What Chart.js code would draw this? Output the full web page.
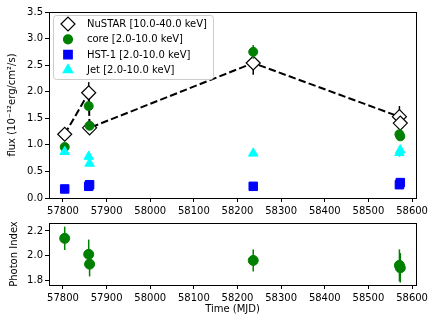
<!DOCTYPE html>
<html>
<head>
<meta charset="utf-8">
<script src="https://cdn.jsdelivr.net/npm/chart.js@4"></script>
<style>
  body { margin: 0; background: #fff; }
  #wrap { position: relative; width: 437px; height: 324px; }
  canvas { position: absolute; left: 0; }
  #fluxChart { top: 0; }
  #indexChart { top: 215px; }
</style>
</head>
<body>
<div id="wrap">
  <canvas id="fluxChart" width="437" height="215"></canvas>
  <canvas id="indexChart" width="437" height="109"></canvas>
</div>
<script>
// ----- data -----
const obsTime = [57804, 57859, 57861, 58236, 58571, 58573];

const nustarFlux = [1.20, 1.98, 1.32, 2.54, 1.53, 1.41];
const nustarErr  = [0.08, 0.20, 0.12, 0.22, 0.20, 0.12];

const coreFlux = [0.96, 1.73, 1.36, 2.75, 1.20, 1.16];
const coreErr  = [0.05, 0.08, 0.08, 0.13, 0.06, 0.06];

const hstFlux = [0.17, 0.22, 0.25, 0.22, 0.25, 0.29];
const hstErr  = [0.03, 0.03, 0.03, 0.03, 0.05, 0.08];

const jetFlux = [0.87, 0.78, 0.65, 0.84, 0.85, 0.90];
const jetErr  = [0.05, 0.05, 0.05, 0.05, 0.08, 0.10];

const photonIndex = [2.14, 2.01, 1.93, 1.96, 1.92, 1.90];
const photonErr   = [0.095, 0.12, 0.10, 0.09, 0.13, 0.12];

const timeTicks  = [57800, 57900, 58000, 58100, 58200, 58300, 58400, 58500, 58600];
const fluxTicks  = [0, 0.5, 1.0, 1.5, 2.0, 2.5, 3.0, 3.5];
const indexTicks = [1.8, 2.0, 2.2];

const legendItems = [
  { label: 'NuSTAR [10.0-40.0 keV]', style: 'rectRot', color: '#000', fill: '#fff', r: 7 },
  { label: 'core [2.0-10.0 keV]', style: 'circle', color: '#008000', fill: '#008000', r: 4.5 },
  { label: 'HST-1 [2.0-10.0 keV]', style: 'rect', color: '#0000ff', fill: '#0000ff', r: 6 },
  { label: 'Jet [2.0-10.0 keV]', style: 'triangle', color: '#00ffff', fill: '#00ffff', r: 5.5 }
];

Chart.defaults.font.family = 'DejaVu Sans';
Chart.defaults.font.size = 10;
Chart.defaults.color = '#000';

const pts = (xs, ys) => xs.map((x, i) => ({ x: x, y: ys[i] }));

// vertical error bars, drawn just under each dataset's markers
const errorBars = {
  id: 'errorBars',
  beforeDatasetDraw(chart, args) {
    const ds = chart.data.datasets[args.index];
    if (!ds.yErr) return;
    const { ctx, scales } = chart;
    ctx.save();
    ctx.strokeStyle = ds.errColor || ds.borderColor;
    ctx.lineWidth = 1.5;
    ds.data.forEach((p, i) => {
      const x = scales.x.getPixelForValue(p.x);
      ctx.beginPath();
      ctx.moveTo(x, scales.y.getPixelForValue(p.y - ds.yErr[i]));
      ctx.lineTo(x, scales.y.getPixelForValue(p.y + ds.yErr[i]));
      ctx.stroke();
    });
    ctx.restore();
  }
};

// full box around plot area
const frame = {
  id: 'frame',
  afterDraw(chart) {
    const { ctx, chartArea: a } = chart;
    ctx.save();
    ctx.strokeStyle = '#000';
    ctx.lineWidth = 1;
    ctx.strokeRect(Math.round(a.left) + 0.5, Math.round(a.top) + 0.5,
      Math.round(a.right - a.left), Math.round(a.bottom - a.top));
    ctx.restore();
  }
};

// matplotlib-like legend box inside the top panel
const innerLegend = {
  id: 'innerLegend',
  afterDraw(chart) {
    const ctx = chart.ctx;
    const x0 = 53.5, y0 = 15.5, w = 160, h = 64, rad = 3;
    ctx.save();
    ctx.beginPath();
    ctx.moveTo(x0 + rad, y0);
    ctx.arcTo(x0 + w, y0, x0 + w, y0 + h, rad);
    ctx.arcTo(x0 + w, y0 + h, x0, y0 + h, rad);
    ctx.arcTo(x0, y0 + h, x0, y0, rad);
    ctx.arcTo(x0, y0, x0 + w, y0, rad);
    ctx.closePath();
    ctx.fillStyle = 'rgba(255,255,255,0.8)';
    ctx.fill();
    ctx.strokeStyle = '#cccccc';
    ctx.lineWidth = 1;
    ctx.stroke();

    ctx.font = '10px "DejaVu Sans"';
    ctx.textBaseline = 'middle';
    legendItems.forEach((item, i) => {
      const cy = 24 + i * 15.3;
      ctx.fillStyle = item.fill;
      ctx.strokeStyle = item.color;
      ctx.lineWidth = 1.2;
      Chart.helpers.drawPoint(ctx, { pointStyle: item.style, radius: item.r, borderWidth: 1.2 }, 68, cy);
      ctx.fillStyle = '#000';
      ctx.fillText(item.label, 87, cy + 0.5);
    });
    ctx.restore();
  }
};

function timeAxis(height, showTitle) {
  return {
    type: 'linear',
    min: 57768,
    max: 58609,
    afterBuildTicks: s => { s.ticks = timeTicks.map(v => ({ value: v })); },
    afterFit: s => { s.height = height; },
    ticks: { padding: 3, maxRotation: 0, autoSkip: false, callback: v => String(v) },
    grid: { drawOnChartArea: false, color: '#000', tickLength: 4 },
    border: { color: '#000' },
    title: { display: showTitle, text: 'Time (MJD)', padding: { top: 0, bottom: 9 } }
  };
}

// ----- flux light curve -----
new Chart(document.getElementById('fluxChart'), {
  type: 'scatter',
  data: {
    datasets: [
      {
        label: 'NuSTAR', data: pts(obsTime, nustarFlux), yErr: nustarErr,
        showLine: true, borderColor: '#000', borderWidth: 2, borderDash: [7.4, 3.2],
        pointStyle: 'rectRot', pointRadius: 7, pointBorderWidth: 1.2,
        pointBackgroundColor: '#fff', pointBorderColor: '#000', order: 4
      },
      {
        label: 'core', data: pts(obsTime, coreFlux), yErr: coreErr,
        borderColor: '#008000', backgroundColor: '#008000',
        pointStyle: 'circle', pointRadius: 4.5, order: 3
      },
      {
        label: 'HST-1', data: pts(obsTime, hstFlux), yErr: hstErr,
        borderColor: '#0000ff', backgroundColor: '#0000ff',
        pointStyle: 'rect', pointRadius: 6, order: 2
      },
      {
        label: 'Jet', data: pts(obsTime, jetFlux), yErr: jetErr,
        borderColor: '#00ffff', backgroundColor: '#00ffff',
        pointStyle: 'triangle', pointRadius: 5.5, order: 1
      }
    ]
  },
  options: {
    responsive: false,
    devicePixelRatio: 1,
    animation: false,
    layout: { padding: { top: 12, right: 21, left: 0, bottom: 0 } },
    plugins: { legend: { display: false }, tooltip: { enabled: false } },
    scales: {
      x: timeAxis(17, false),
      y: {
        min: 0,
        max: 3.5,
        afterBuildTicks: s => { s.ticks = fluxTicks.map(v => ({ value: v })); },
        afterFit: s => { s.width = 49; },
        ticks: { padding: 2, callback: v => v.toFixed(1) },
        grid: { drawOnChartArea: false, color: '#000', tickLength: 4 },
        border: { color: '#000' },
        title: { display: true, text: 'flux (10⁻¹²erg/cm²/s)', padding: { top: 6, bottom: 0 } }
      }
    }
  },
  plugins: [errorBars, frame, innerLegend]
});

// ----- photon index -----
new Chart(document.getElementById('indexChart'), {
  type: 'scatter',
  data: {
    datasets: [{
      label: 'Photon Index', data: pts(obsTime, photonIndex), yErr: photonErr,
      borderColor: '#008000', backgroundColor: '#008000',
      pointStyle: 'circle', pointRadius: 5
    }]
  },
  options: {
    responsive: false,
    devicePixelRatio: 1,
    animation: false,
    layout: { padding: { top: 8, right: 21, left: 0, bottom: 0 } },
    plugins: { legend: { display: false }, tooltip: { enabled: false } },
    scales: {
      x: timeAxis(39, true),
      y: {
        min: 1.76,
        max: 2.265,
        afterBuildTicks: s => { s.ticks = indexTicks.map(v => ({ value: v })); },
        afterFit: s => { s.width = 49; },
        ticks: { padding: 2, callback: v => v.toFixed(1) },
        grid: { drawOnChartArea: false, color: '#000', tickLength: 4 },
        border: { color: '#000' },
        title: { display: true, text: 'Photon Index', padding: { top: 8, bottom: 0 } }
      }
    }
  },
  plugins: [errorBars, frame]
});
</script>
</body>
</html>
